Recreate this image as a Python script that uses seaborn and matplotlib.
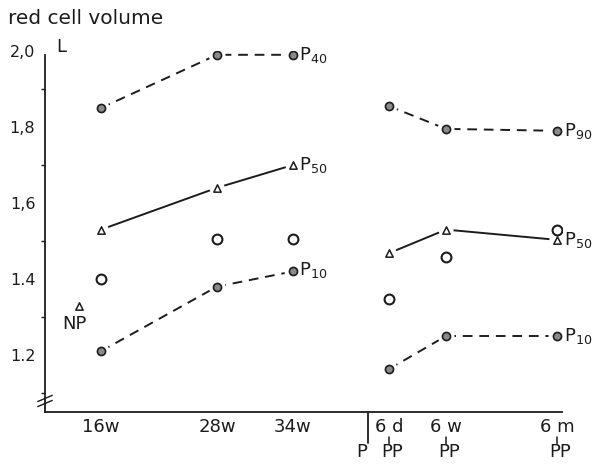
import matplotlib
matplotlib.use("Agg")
from matplotlib import pyplot as plt
import matplotlib.transforms as mtransforms
import seaborn as sns

# time points (pregnancy weeks, then post partum)
time_labels = ["16w", "28w", "34w", "6 d", "6 w", "6 m"]
time_pos = [1.0, 2.0, 2.655, 3.483, 3.974, 4.931]
phase_labels = ["PP", "PP", "PP"]
birth_pos = 3.302
np_pos = 0.81

# red cell volume (L)
p40 = [1.85, 1.99, 1.99]
p90 = [1.855, 1.795, 1.79]
p50_preg = [1.53, 1.64, 1.70]
p50_post = [1.468, 1.53, 1.503]
mean_preg = [1.40, 1.505, 1.505]
mean_post = [1.347, 1.458, 1.53]
p10_preg = [1.21, 1.38, 1.42]
p10_post = [1.163, 1.25, 1.25]
np_value = 1.33

ink = "#1c1c1c"
sns.set_style("white")
plt.rcParams["font.family"] = ["DejaVu Sans"]

fig = plt.figure(figsize=(5.94, 4.65), dpi=100)
ax = fig.add_axes([45 / 594, 53 / 465, 517 / 594, 361 / 465])

pre_x = time_pos[:3]
post_x = time_pos[3:]
dash = (0, (5, 3.5))

# lines
for xs, ys, ls in [(pre_x, p40, dash), (post_x, p90, dash),
                   (pre_x, p50_preg, "-"), (post_x, p50_post, "-"),
                   (pre_x, p10_preg, dash), (post_x, p10_post, dash)]:
    sns.lineplot(x=xs, y=ys, ax=ax, color=ink, lw=1.4, linestyle=ls,
                 sort=False, estimator=None, zorder=1)

# filled percentile dots (with white halo to break the lines)
dot_x = pre_x + post_x + pre_x + post_x
dot_y = p40 + p90 + p10_preg + p10_post
sns.scatterplot(x=dot_x, y=dot_y, ax=ax, s=150, color="white",
                edgecolor="none", zorder=2)
sns.scatterplot(x=dot_x, y=dot_y, ax=ax, s=34, color="#8a8a8a",
                edgecolor=ink, linewidth=1.2, zorder=3)

# median triangles
tri_x = pre_x + post_x
tri_y = p50_preg + p50_post
sns.scatterplot(x=tri_x, y=tri_y, ax=ax, s=120, color="white", marker="o",
                edgecolor="none", zorder=2)
sns.scatterplot(x=tri_x + [np_pos], y=tri_y + [np_value], ax=ax, s=28,
                marker="^", facecolor="white", edgecolor=ink, linewidth=1.1,
                zorder=3)

# mean circles
sns.scatterplot(x=pre_x + post_x, y=mean_preg + mean_post, ax=ax, s=50,
                marker="o", facecolor="white", edgecolor=ink, linewidth=1.5,
                zorder=3)

# series labels
lab_kw = dict(textcoords="offset points", fontsize=13, color=ink,
              va="center", ha="left", annotation_clip=False)
ax.annotate("P$_{40}$", (pre_x[-1], p40[-1]), xytext=(4, 0), **lab_kw)
ax.annotate("P$_{50}$", (pre_x[-1], p50_preg[-1]), xytext=(4, 0), **lab_kw)
ax.annotate("P$_{10}$", (pre_x[-1], p10_preg[-1]), xytext=(4, 1), **lab_kw)
ax.annotate("P$_{90}$", (post_x[-1], p90[-1]), xytext=(5, 0), **lab_kw)
ax.annotate("P$_{50}$", (post_x[-1], p50_post[-1]), xytext=(5, 0), **lab_kw)
ax.annotate("P$_{10}$", (post_x[-1], p10_post[-1]), xytext=(5, 0), **lab_kw)
ax.annotate("NP", (np_pos, np_value), xytext=(-3, -13), textcoords="offset points",
            fontsize=13, color=ink, ha="center", va="center")

# axes
ax.set_xlim(0.517, 4.974)
ax.set_ylim(1.05, 2.0)
sns.despine(ax=ax)
for side in ["left", "bottom"]:
    ax.spines[side].set_color(ink)
    ax.spines[side].set_linewidth(1.3)
ax.spines["left"].set_bounds(1.05, 1.99)

ax.set_yticks([1.2, 1.4, 1.6, 1.8, 2.0])
ax.set_yticklabels(["1.2", "1.4", "1,6", "1,8", "2,0"])
ax.set_yticks([1.1, 1.3, 1.5, 1.7, 1.9], minor=True)
ax.tick_params(axis="y", which="major", direction="out", length=6, width=1.2,
               color=ink, labelsize=11.5, labelcolor=ink, pad=1)
ax.tick_params(axis="y", which="minor", left=True, direction="out", length=3,
               width=1.0, color=ink)

ax.set_xticks(time_pos)
ax.set_xticklabels(time_labels)
ax.tick_params(axis="x", direction="inout", length=9, width=1.2, color=ink,
               labelsize=13, labelcolor=ink, pad=0)

# second row: P / PP
trans = mtransforms.blended_transform_factory(ax.transData, ax.transAxes)
ax.plot([birth_pos, birth_pos], [0, -0.086], color=ink, lw=1.3,
        transform=trans, clip_on=False)
ax.text(birth_pos - 0.01, -0.112, "P", transform=trans, ha="right",
        va="center", fontsize=13, color=ink)
for xp, lab in zip(post_x, phase_labels):
    ax.plot([xp, xp], [-0.068, -0.088], color=ink, lw=1.1, transform=trans,
            clip_on=False)
    ax.text(xp + 0.03, -0.112, lab, transform=trans, ha="center", va="center",
            fontsize=13, color=ink)

# axis break marks
for dy in [0.0, 0.014]:
    ax.plot([-0.014, 0.014], [0.015 + dy, 0.032 + dy], color=ink, lw=1.0,
            transform=ax.transAxes, clip_on=False)

ax.text(0.022, 1.012, "L", transform=ax.transAxes, ha="left", va="center",
        fontsize=13, color=ink)
fig.text(8 / 594, 1 - 18 / 465, "red cell volume", ha="left", va="center",
         fontsize=14.5, color=ink)

fig.savefig("out.png", dpi=100)
